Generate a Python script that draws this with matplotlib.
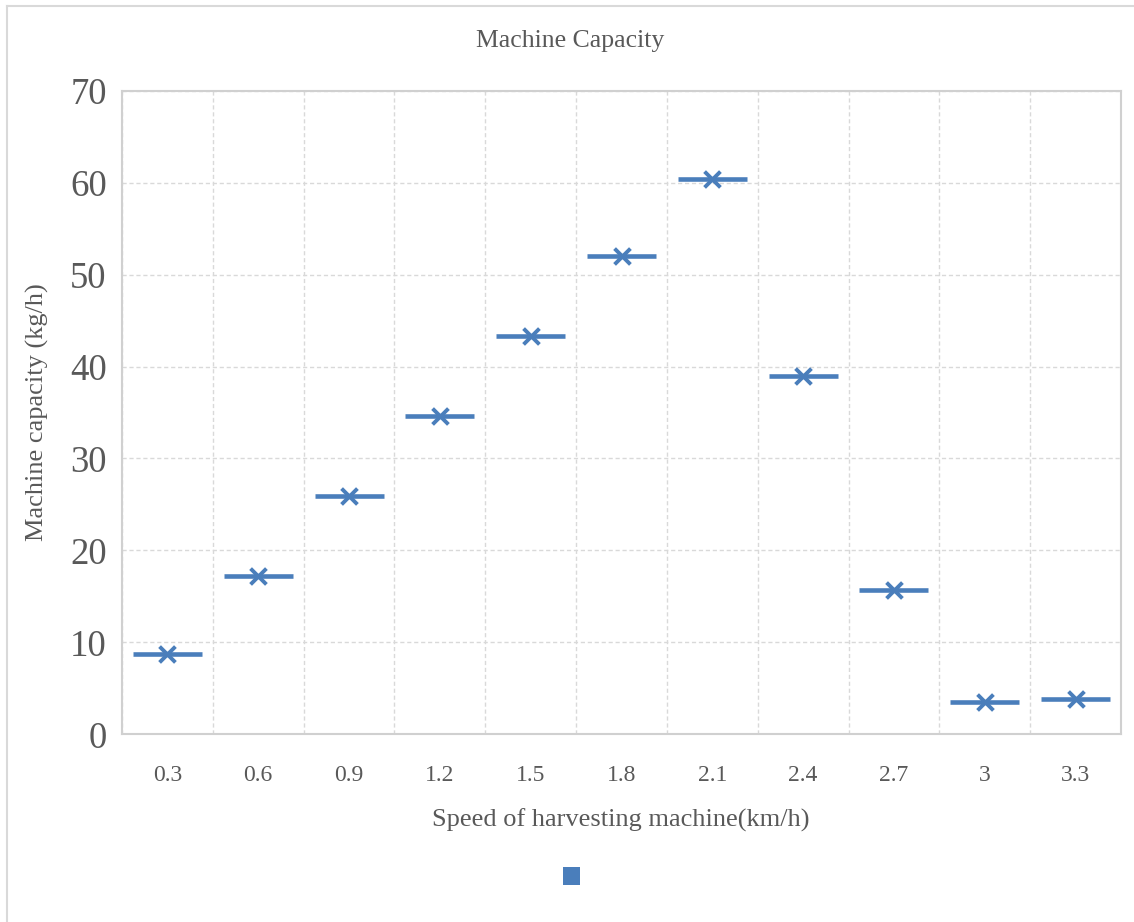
import matplotlib
matplotlib.use("Agg")
import matplotlib.pyplot as plt
from matplotlib.lines import Line2D
from matplotlib.patches import Rectangle
import numpy as np

speeds = ["0.3", "0.6", "0.9", "1.2", "1.5", "1.8", "2.1", "2.4", "2.7", "3", "3.3"]
capacity = [8.7, 17.2, 25.9, 34.6, 43.3, 52.0, 60.4, 39.0, 15.7, 3.5, 3.8]
y_ticks = [0, 10, 20, 30, 40, 50, 60, 70]

BLUE = "#4a7ebb"
GRID = "#d9d9d9"
TEXT = "#595959"

plt.rcParams["font.family"] = ["Liberation Serif", "DejaVu Serif"]

W, H = 1134, 922
fig = plt.figure(figsize=(W/100, H/100), dpi=100)
ax = fig.add_axes([122/W, 1-734.3/H, (1121-122)/W, (734.3-90.7)/H])

x = np.arange(len(speeds))
half = 0.38
ax.hlines(capacity, x - half, x + half, colors=BLUE, linewidth=3.3, zorder=3)
ax.scatter(x, capacity, marker="x", s=130, color=BLUE, linewidths=2.8, zorder=4)

ax.set_xlim(-0.5, len(speeds) - 0.5)
ax.set_ylim(0, 70)
ax.set_yticks(y_ticks)
ax.set_yticklabels([str(v) for v in y_ticks], fontsize=26.5, color=TEXT)
ax.set_xticks(x)
ax.set_xticklabels(speeds, fontsize=17, color=TEXT)
ax.tick_params(axis="both", length=0)
ax.tick_params(axis="y", pad=11)
ax.tick_params(axis="x", pad=22)

# gridlines
ax.set_xticks(np.arange(len(speeds) + 1) - 0.5, minor=True)
ax.grid(which="minor", axis="x", color=GRID, linestyle=(0, (3, 2)), linewidth=1.0)
ax.grid(which="major", axis="y", color=GRID, linestyle=(0, (3, 2)), linewidth=1.0)
ax.grid(which="major", axis="x", visible=False)
ax.tick_params(which="minor", length=0)
ax.set_axisbelow(True)
for s in ax.spines.values():
    s.set_color("#d0d0d0")
    s.set_linewidth(1.5)

fig.text(621/W, 1-820/H, "Speed of harvesting machine(km/h)", fontsize=19, color=TEXT,
         ha="center", va="center")
fig.text(37/W, 1-412.5/H, "Machine capacity (kg/h)", fontsize=19, color=TEXT,
         ha="center", va="center", rotation=90)

fig.text(570/W, 1-41/H, "Machine Capacity", fontsize=18.5, color=TEXT,
         ha="center", va="center")

# legend marker (no label)
fig.patches.append(Rectangle((562.5/W, 1-884.5/H), 18/W, 18/H,
                             transform=fig.transFigure, facecolor=BLUE,
                             edgecolor="none"))

# outer chart border (left and top visible)
fig.add_artist(Line2D([6.5/W, 6.5/W], [0, 1-6.5/H], transform=fig.transFigure,
                      color="#d9d9d9", linewidth=1.5))
fig.add_artist(Line2D([6.5/W, 1], [1-6.5/H, 1-6.5/H], transform=fig.transFigure,
                      color="#d9d9d9", linewidth=1.5))

fig.savefig("out.png", dpi=100, facecolor="white")
